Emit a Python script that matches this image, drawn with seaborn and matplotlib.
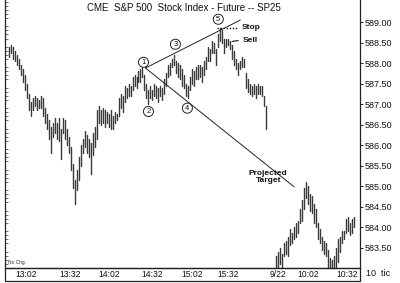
import matplotlib
matplotlib.use("Agg")
import matplotlib.pyplot as plt
from matplotlib.ticker import MultipleLocator, FixedLocator, FuncFormatter
from matplotlib.patches import Rectangle
import seaborn as sns
import pandas as pd
import numpy as np

# ---- data (10-tick bars), session 1 (9/21) ----
s1_high = [588.40, 588.45, 588.40, 588.30, 588.20, 588.10, 587.95, 587.85, 587.70, 587.50,
           587.25, 587.05, 587.15, 587.20, 587.15, 587.10, 587.20, 587.15, 586.90, 586.75,
           586.60, 586.45, 586.55, 586.65, 586.55, 586.65, 586.40, 586.65, 586.60, 586.40,
           586.20, 585.95, 585.55, 585.15, 585.40, 585.70, 586.00, 586.15, 586.35, 586.25,
           586.15, 586.05, 586.30, 586.45, 586.85, 586.95, 586.85, 586.90, 586.85, 586.80,
           586.75, 586.85, 586.70, 586.80, 586.75, 587.15, 587.25, 587.20, 587.45, 587.40,
           587.50, 587.45, 587.65, 587.70, 587.65, 587.80, 587.85, 587.90, 587.70, 587.50,
           587.35, 587.45, 587.35, 587.50, 587.45, 587.40, 587.45, 587.40, 587.60, 587.75,
           587.95, 588.00, 588.10, 588.20, 588.05, 588.00, 587.95, 587.85, 587.70, 587.50,
           587.45, 587.65, 587.85, 587.80, 587.90, 587.95, 587.95, 587.90, 588.05, 588.15,
           588.40, 588.35, 588.55, 588.50, 588.35, 588.70, 588.85, 588.80, 588.60, 588.60,
           588.60, 588.55, 588.45, 588.30, 588.10, 588.00, 588.05, 588.15, 588.10, 587.75,
           587.60, 587.50, 587.45, 587.50, 587.45, 587.50, 587.45, 587.45, 587.20, 586.95]
s1_low = [588.15, 588.25, 588.10, 588.05, 587.95, 587.85, 587.70, 587.55, 587.35, 587.15,
          586.85, 586.70, 586.85, 586.95, 586.85, 586.90, 586.90, 586.70, 586.55, 586.40,
          586.15, 585.80, 586.20, 586.30, 586.15, 586.10, 585.65, 586.30, 586.15, 586.00,
          585.80, 585.40, 584.95, 584.55, 584.90, 585.15, 585.50, 585.80, 585.95, 585.80,
          585.70, 585.30, 585.75, 585.95, 586.15, 586.55, 586.50, 586.55, 586.45, 586.55,
          586.45, 586.40, 586.40, 586.55, 586.60, 586.70, 586.90, 586.80, 587.05, 587.15,
          587.20, 587.20, 587.35, 587.45, 587.40, 587.55, 587.55, 587.65, 587.35, 587.15,
          587.00, 587.15, 587.10, 587.20, 587.15, 587.05, 587.20, 587.10, 587.25, 587.45,
          587.65, 587.70, 587.90, 587.95, 587.75, 587.65, 587.60, 587.45, 587.40, 587.20,
          587.15, 587.35, 587.50, 587.45, 587.60, 587.60, 587.65, 587.55, 587.70, 587.85,
          588.05, 588.05, 588.25, 588.25, 587.95, 588.40, 588.55, 588.50, 588.25, 588.40,
          588.45, 588.35, 588.10, 587.95, 587.85, 587.70, 587.85, 587.90, 587.90, 587.40,
          587.30, 587.25, 587.20, 587.25, 587.15, 587.25, 587.25, 587.20, 586.95, 586.40]

# ---- session 2 (9/22) ----
s2_high = [583.30, 583.40, 583.50, 583.35, 583.60, 583.65, 583.75, 583.95, 583.85, 584.00,
           584.10, 584.15, 584.45, 584.65, 584.95, 585.10, 585.00, 584.80, 584.75, 584.55,
           584.45, 584.10, 583.95, 583.75, 583.65, 583.60, 583.45, 583.25, 583.20, 583.30,
           583.50, 583.70, 583.75, 583.90, 583.90, 584.20, 584.25, 584.10, 584.20, 584.25]
s2_low = [582.90, 583.00, 583.10, 582.95, 583.30, 583.35, 583.30, 583.55, 583.60, 583.70,
          583.75, 583.85, 584.10, 584.15, 584.45, 584.70, 584.55, 584.40, 584.35, 584.10,
          584.00, 583.70, 583.60, 583.45, 583.35, 583.30, 583.00, 582.85, 582.85, 582.85,
          583.00, 583.15, 583.40, 583.60, 583.70, 583.85, 583.90, 583.80, 583.85, 584.00]

session_gap = 4  # empty bar slots between sessions

tick_labels = ["13:02", "13:32", "14:02", "14:32", "15:02", "15:32", "9/22", "10:02", "10:32"]
tick_bars = [8.5, 30.5, 50.5, 72, 92, 110, 135, 150, 169.5]

price_ticks = [583.50, 584.00, 584.50, 585.00, 585.50, 586.00, 586.50,
               587.00, 587.50, 588.00, 588.50, 589.00]

# wave points (bar, price) and trend lines
wave_labels = ["1", "2", "3", "4", "5"]
wave_bar = [67.5, 70, 83.5, 89.5, 105]
wave_price = [588.02, 586.82, 588.46, 586.90, 589.07]
upper_line_bar = [68.5, 116]
upper_line_price = [587.88, 589.05]
lower_line_bar = [68.5, 143]
lower_line_price = [587.88, 584.98]
stop_bar = [104.5, 115]
stop_price = [588.85, 588.85]
sell_bar = [112, 115]
sell_price = [588.53, 588.55]

# ---- build long table for seaborn ----
n1 = len(s1_high)
x1 = list(range(n1))
x2 = list(range(n1 + session_gap, n1 + session_gap + len(s2_high)))
xs = x1 + x2
highs = s1_high + s2_high
lows = s1_low + s2_low
rows = []
for x, h, l in zip(xs, highs, lows):
    rows.append({"bar": x, "price": l, "unit": x})
    rows.append({"bar": x, "price": h, "unit": x})
df = pd.DataFrame(rows)

sns.set_theme(style="white")
plt.rcParams["font.family"] = ["Liberation Sans", "DejaVu Sans"]

fig = plt.figure(figsize=(4.0, 2.83), dpi=100)
ax = fig.add_axes([0.012, 0.053, 0.888, 0.947])

sns.lineplot(data=df, x="bar", y="price", units="unit", estimator=None,
             sort=False, color="#3a3a3a", linewidth=1.0, ax=ax, legend=False)

ax.plot(upper_line_bar, upper_line_price, color="#222222", lw=0.7)
ax.plot(lower_line_bar, lower_line_price, color="#222222", lw=0.7)
ax.plot(stop_bar, stop_price, color="#111111", lw=1.0, ls=(0, (1, 1.2)))
ax.plot(sell_bar, sell_price, color="#111111", lw=0.8)

for lab, bx, py in zip(wave_labels, wave_bar, wave_price):
    ax.text(bx, py, lab, ha="center", va="center", fontsize=5.5, color="#111111",
            bbox=dict(boxstyle="circle,pad=0.2", fc="white", ec="#222222", lw=0.7))

ax.text(116.5, 588.86, "Stop", fontsize=6, fontweight="bold", ha="left", va="center", color="#111111")
ax.text(117, 588.55, "Sell", fontsize=6, fontweight="bold", ha="left", va="center", color="#111111")
ax.text(130, 585.22, "Projected\nTarget", fontsize=6, fontweight="bold", ha="center",
        va="center", color="#111111", linespacing=1.0)

ax.text(0.505, 0.99, "CME  S&P 500  Stock Index - Future -- SP25", transform=ax.transAxes,
        ha="center", va="top", fontsize=7, color="#111111")
ax.text(0.01, 0.012, "No Chg.", transform=ax.transAxes, ha="left", va="bottom",
        fontsize=3.5, color="#333333")

ax.set_xlim(-2, 176)
ax.set_ylim(583.0, 589.54)
ax.set_xlabel("")
ax.set_ylabel("")

ax.yaxis.set_major_locator(FixedLocator(price_ticks))
ax.yaxis.set_major_formatter(FuncFormatter(lambda v, p: f"{v:.2f}"))
ax.yaxis.set_minor_locator(MultipleLocator(0.1))
ax.tick_params(axis="y", which="major", left=False, right=True, labelleft=False,
               labelright=True, direction="out", length=2, width=0.7, pad=1,
               labelsize=6.5, labelcolor="#111111")
ax.tick_params(axis="y", which="minor", left=True, right=False, direction="in",
               length=2.5, width=0.5, color="#333333")
ax.set_xticks(tick_bars)
ax.set_xticklabels(tick_labels)
ax.tick_params(axis="x", which="both", bottom=False, length=0, labelsize=6.2, pad=1.5,
               labelcolor="#111111")

for s in ["left", "right", "bottom"]:
    ax.spines[s].set_visible(True)
    ax.spines[s].set_color("#222222")
    ax.spines[s].set_linewidth(0.9)
ax.spines["top"].set_visible(False)

# label box under the plot
fig.add_artist(Rectangle((0.012, 0.006), 0.888, 0.047, transform=fig.transFigure,
                         fill=False, ec="#222222", lw=0.9))
fig.text(0.945, 0.033, "10  tic", ha="center", va="center", fontsize=6.5, color="#111111")

fig.savefig("out.png", dpi=100, facecolor="white")
